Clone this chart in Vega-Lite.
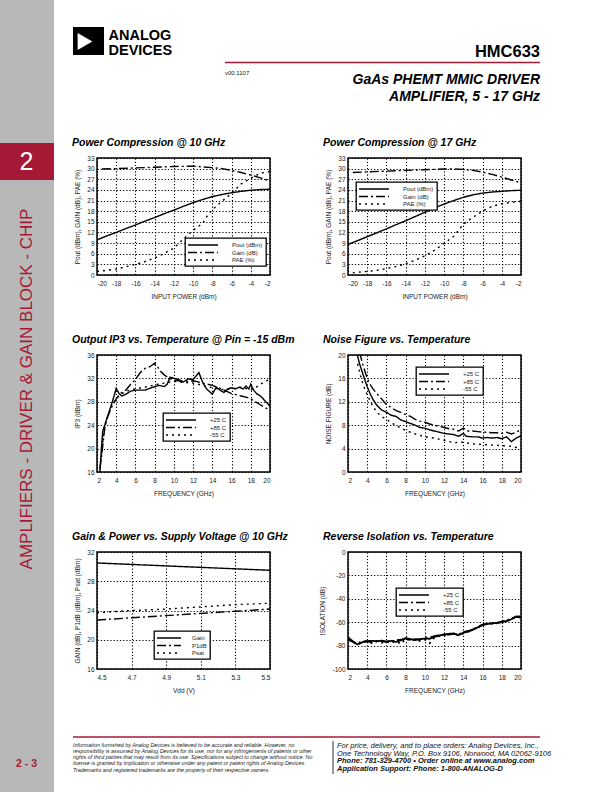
{
  "$schema": "https://vega.github.io/schema/vega-lite/v6.json",
  "padding": 0,
  "background": "white",
  "columns": 2,
  "bounds": "flush",
  "align": "each",
  "spacing": {"row": 80, "column": 78},
  "resolve": {"scale": {"strokeDash": "independent"}, "legend": {"strokeDash": "independent"}},
  "config": {
    "font": "Liberation Sans",
    "view": {"stroke": "#000", "strokeWidth": 1.5},
    "axis": {"domain": false, "ticks": false, "grid": true, "gridColor": "#000", "gridDash": [1.2, 2], "gridWidth": 1.1, "gridOpacity": 1, "labelFontSize": 6.5, "labelColor": "#222", "titleFontSize": 6.5, "titleFontWeight": "normal", "titleColor": "#222", "labelFont": "Liberation Sans", "titleFont": "Liberation Sans", "labelExpr": "replace(datum.label, '\u2212', '-')"},
    "axisX": {"labelPadding": 5, "titlePadding": 7},
    "axisY": {"labelPadding": 3, "titlePadding": 6},
    "legend": {"orient": "none", "padding": 3, "strokeColor": "#000", "strokeWidth": 1.3, "fillColor": "#fff", "labelFontSize": 6, "labelColor": "#222", "labelFont": "Liberation Sans", "rowPadding": 0.5, "symbolType": "M-5,0H5", "symbolSize": 36, "symbolOffset": 11, "symbolStrokeWidth": 1.3, "symbolStrokeColor": "#000", "labelOffset": 25},
    "title": {"fontSize": 10.5, "fontStyle": "italic", "fontWeight": "bold", "anchor": "start", "frame": "group", "dx": -25, "offset": 7, "color": "#000", "font": "Liberation Sans"}
  },
  "concat": [
    {
      "width": 173, "height": 78,
      "view": {"stroke": null},
      "data": {"values": [{}]},
      "layer": [
        {"mark": {"type": "rect", "color": "#b8b8b8"},
         "encoding": {"x": {"datum": 0, "type": "quantitative", "scale": {"domain": [97, 270], "nice": false, "zero": false}, "axis": null}, "x2": {"datum": 54},
                      "y": {"datum": 0, "type": "quantitative", "scale": {"domain": [0, 78], "nice": false, "zero": false, "reverse": true}, "axis": null}, "y2": {"datum": 792}}},
        {"mark": {"type": "rect", "color": "#a51937"},
         "encoding": {"x": {"datum": 0, "type": "quantitative", "scale": {"domain": [97, 270], "nice": false, "zero": false}, "axis": null}, "x2": {"datum": 54},
                      "y": {"datum": 143, "type": "quantitative", "scale": {"domain": [0, 78], "nice": false, "zero": false, "reverse": true}, "axis": null}, "y2": {"datum": 180}}},
        {"mark": {"type": "text", "text": "2", "fontSize": 25, "color": "#fff", "align": "center", "baseline": "middle"},
         "encoding": {"x": {"datum": 26.5, "type": "quantitative", "scale": {"domain": [97, 270], "nice": false, "zero": false}, "axis": null},
                      "y": {"datum": 162, "type": "quantitative", "scale": {"domain": [0, 78], "nice": false, "zero": false, "reverse": true}, "axis": null}}},
        {"mark": {"type": "text", "text": "AMPLIFIERS - DRIVER & GAIN BLOCK - CHIP", "fontSize": 17, "color": "#a51937", "align": "center", "baseline": "middle", "angle": 270},
         "encoding": {"x": {"datum": 27, "type": "quantitative", "scale": {"domain": [97, 270], "nice": false, "zero": false}, "axis": null},
                      "y": {"datum": 389, "type": "quantitative", "scale": {"domain": [0, 78], "nice": false, "zero": false, "reverse": true}, "axis": null}}},
        {"mark": {"type": "text", "text": "2 - 3", "fontSize": 10.5, "fontWeight": "bold", "color": "#a51937", "align": "center", "baseline": "middle"},
         "encoding": {"x": {"datum": 26.5, "type": "quantitative", "scale": {"domain": [97, 270], "nice": false, "zero": false}, "axis": null},
                      "y": {"datum": 764, "type": "quantitative", "scale": {"domain": [0, 78], "nice": false, "zero": false, "reverse": true}, "axis": null}}},
        {"mark": {"type": "rect", "color": "#000"},
         "encoding": {"x": {"datum": 73, "type": "quantitative", "scale": {"domain": [97, 270], "nice": false, "zero": false}, "axis": null}, "x2": {"datum": 104},
                      "y": {"datum": 27, "type": "quantitative", "scale": {"domain": [0, 78], "nice": false, "zero": false, "reverse": true}, "axis": null}, "y2": {"datum": 55}}},
        {"mark": {"type": "point", "shape": "triangle-right", "size": 289, "filled": true, "color": "#fff", "opacity": 1, "strokeWidth": 0},
         "encoding": {"x": {"datum": 85, "type": "quantitative", "scale": {"domain": [97, 270], "nice": false, "zero": false}, "axis": null},
                      "y": {"datum": 41.5, "type": "quantitative", "scale": {"domain": [0, 78], "nice": false, "zero": false, "reverse": true}, "axis": null}}},
        {"mark": {"type": "text", "text": "ANALOG", "fontSize": 14.5, "fontWeight": "bold", "color": "#000", "align": "left", "baseline": "alphabetic"},
         "encoding": {"x": {"datum": 108.5, "type": "quantitative", "scale": {"domain": [97, 270], "nice": false, "zero": false}, "axis": null},
                      "y": {"datum": 40.3, "type": "quantitative", "scale": {"domain": [0, 78], "nice": false, "zero": false, "reverse": true}, "axis": null}}},
        {"mark": {"type": "text", "text": "DEVICES", "fontSize": 14.5, "fontWeight": "bold", "color": "#000", "align": "left", "baseline": "alphabetic"},
         "encoding": {"x": {"datum": 108.5, "type": "quantitative", "scale": {"domain": [97, 270], "nice": false, "zero": false}, "axis": null},
                      "y": {"datum": 55, "type": "quantitative", "scale": {"domain": [0, 78], "nice": false, "zero": false, "reverse": true}, "axis": null}}},
        {"mark": {"type": "text", "text": "HMC633", "fontSize": 16.5, "fontWeight": "bold", "color": "#000", "align": "right", "baseline": "alphabetic"},
         "encoding": {"x": {"datum": 540, "type": "quantitative", "scale": {"domain": [97, 270], "nice": false, "zero": false}, "axis": null},
                      "y": {"datum": 56.5, "type": "quantitative", "scale": {"domain": [0, 78], "nice": false, "zero": false, "reverse": true}, "axis": null}}},
        {"mark": {"type": "rule", "color": "#a51937", "strokeWidth": 1.5},
         "encoding": {"x": {"datum": 225, "type": "quantitative", "scale": {"domain": [97, 270], "nice": false, "zero": false}, "axis": null}, "x2": {"datum": 540},
                      "y": {"datum": 62.5, "type": "quantitative", "scale": {"domain": [0, 78], "nice": false, "zero": false, "reverse": true}, "axis": null}}},
        {"mark": {"type": "text", "text": "v00.1107", "fontSize": 6, "color": "#222", "align": "left", "baseline": "alphabetic"},
         "encoding": {"x": {"datum": 225, "type": "quantitative", "scale": {"domain": [97, 270], "nice": false, "zero": false}, "axis": null},
                      "y": {"datum": 75, "type": "quantitative", "scale": {"domain": [0, 78], "nice": false, "zero": false, "reverse": true}, "axis": null}}},
        {"mark": {"type": "text", "text": "GaAs PHEMT MMIC DRIVER", "fontSize": 14, "fontWeight": "bold", "fontStyle": "italic", "color": "#000", "align": "right", "baseline": "alphabetic"},
         "encoding": {"x": {"datum": 540, "type": "quantitative", "scale": {"domain": [97, 270], "nice": false, "zero": false}, "axis": null},
                      "y": {"datum": 84, "type": "quantitative", "scale": {"domain": [0, 78], "nice": false, "zero": false, "reverse": true}, "axis": null}}},
        {"mark": {"type": "text", "text": "AMPLIFIER, 5 - 17 GHz", "fontSize": 14, "fontWeight": "bold", "fontStyle": "italic", "color": "#000", "align": "right", "baseline": "alphabetic"},
         "encoding": {"x": {"datum": 540, "type": "quantitative", "scale": {"domain": [97, 270], "nice": false, "zero": false}, "axis": null},
                      "y": {"datum": 101, "type": "quantitative", "scale": {"domain": [0, 78], "nice": false, "zero": false, "reverse": true}, "axis": null}}},
        {"mark": {"type": "rule", "color": "#a51937", "strokeWidth": 1.5},
         "encoding": {"x": {"datum": 73, "type": "quantitative", "scale": {"domain": [97, 270], "nice": false, "zero": false}, "axis": null}, "x2": {"datum": 540},
                      "y": {"datum": 737, "type": "quantitative", "scale": {"domain": [0, 78], "nice": false, "zero": false, "reverse": true}, "axis": null}}},
        {"mark": {"type": "text", "text": ["Information furnished by Analog Devices is believed to be accurate and reliable. However, no", "responsibility is assumed by Analog Devices for its use, nor for any infringements of patents or other", "rights of third parties that may result from its use. Specifications subject to change without notice. No", "license is granted by implication or otherwise under any patent or patent rights of Analog Devices.", "Trademarks and registered trademarks are the property of their respective owners."], "fontSize": 5.4, "fontStyle": "italic", "lineHeight": 6.3, "color": "#222", "align": "left", "baseline": "alphabetic"},
         "encoding": {"x": {"datum": 73, "type": "quantitative", "scale": {"domain": [97, 270], "nice": false, "zero": false}, "axis": null},
                      "y": {"datum": 746.5, "type": "quantitative", "scale": {"domain": [0, 78], "nice": false, "zero": false, "reverse": true}, "axis": null}}},
        {"mark": {"type": "rule", "color": "#000", "strokeWidth": 0.8},
         "encoding": {"x": {"datum": 333, "type": "quantitative", "scale": {"domain": [97, 270], "nice": false, "zero": false}, "axis": null},
                      "y": {"datum": 741, "type": "quantitative", "scale": {"domain": [0, 78], "nice": false, "zero": false, "reverse": true}, "axis": null}, "y2": {"datum": 774}}},
        {"mark": {"type": "text", "text": ["For price, delivery, and to place orders: Analog Devices, Inc.,", "One Technology Way, P.O. Box 9106, Norwood, MA 02062-9106"], "fontSize": 7.5, "fontStyle": "italic", "lineHeight": 7.6, "color": "#111", "align": "left", "baseline": "alphabetic"},
         "encoding": {"x": {"datum": 337, "type": "quantitative", "scale": {"domain": [97, 270], "nice": false, "zero": false}, "axis": null},
                      "y": {"datum": 748, "type": "quantitative", "scale": {"domain": [0, 78], "nice": false, "zero": false, "reverse": true}, "axis": null}}},
        {"mark": {"type": "text", "text": ["Phone: 781-329-4700 \u2022 Order online at www.analog.com", "Application Support: Phone: 1-800-ANALOG-D"], "fontSize": 7.5, "fontStyle": "italic", "fontWeight": "bold", "lineHeight": 7.6, "color": "#111", "align": "left", "baseline": "alphabetic"},
         "encoding": {"x": {"datum": 337, "type": "quantitative", "scale": {"domain": [97, 270], "nice": false, "zero": false}, "axis": null},
                      "y": {"datum": 763.2, "type": "quantitative", "scale": {"domain": [0, 78], "nice": false, "zero": false, "reverse": true}, "axis": null}}}
      ]
    },
    {
      "width": 173, "height": 78,
      "view": {"stroke": null},
      "data": {"values": [{}]},
      "mark": {"type": "text", "text": ""}
    },
    {
      "width": 173, "height": 117,
      "title": "Power Compression @ 10 GHz",
      "data": {"values": [
        {"s": "Pout (dBm)", "x": -20, "y": 9.9}, {"s": "Pout (dBm)", "x": -19, "y": 11.0}, {"s": "Pout (dBm)", "x": -18, "y": 12.0}, {"s": "Pout (dBm)", "x": -17, "y": 13.1}, {"s": "Pout (dBm)", "x": -16, "y": 14.1}, {"s": "Pout (dBm)", "x": -15, "y": 15.2}, {"s": "Pout (dBm)", "x": -14, "y": 16.2}, {"s": "Pout (dBm)", "x": -13, "y": 17.3}, {"s": "Pout (dBm)", "x": -12, "y": 18.3}, {"s": "Pout (dBm)", "x": -11, "y": 19.4}, {"s": "Pout (dBm)", "x": -10, "y": 20.4}, {"s": "Pout (dBm)", "x": -9, "y": 21.3}, {"s": "Pout (dBm)", "x": -8, "y": 22.1}, {"s": "Pout (dBm)", "x": -7, "y": 22.7}, {"s": "Pout (dBm)", "x": -6, "y": 23.2}, {"s": "Pout (dBm)", "x": -5, "y": 23.6}, {"s": "Pout (dBm)", "x": -4, "y": 23.9}, {"s": "Pout (dBm)", "x": -3, "y": 24.1}, {"s": "Pout (dBm)", "x": -2, "y": 24.2},
        {"s": "Gain (dB)", "x": -19.5, "y": 29.9}, {"s": "Gain (dB)", "x": -18, "y": 30.0}, {"s": "Gain (dB)", "x": -16, "y": 30.2}, {"s": "Gain (dB)", "x": -14, "y": 30.4}, {"s": "Gain (dB)", "x": -12, "y": 30.6}, {"s": "Gain (dB)", "x": -10, "y": 30.7}, {"s": "Gain (dB)", "x": -9, "y": 30.5}, {"s": "Gain (dB)", "x": -8, "y": 30.3}, {"s": "Gain (dB)", "x": -7, "y": 30.0}, {"s": "Gain (dB)", "x": -6, "y": 29.5}, {"s": "Gain (dB)", "x": -5, "y": 28.9}, {"s": "Gain (dB)", "x": -4, "y": 28.2}, {"s": "Gain (dB)", "x": -3, "y": 27.4}, {"s": "Gain (dB)", "x": -2, "y": 26.5},
        {"s": "PAE (%)", "x": -20, "y": 1.0}, {"s": "PAE (%)", "x": -19, "y": 1.3}, {"s": "PAE (%)", "x": -18, "y": 1.7}, {"s": "PAE (%)", "x": -17, "y": 2.3}, {"s": "PAE (%)", "x": -16, "y": 3.0}, {"s": "PAE (%)", "x": -15, "y": 3.8}, {"s": "PAE (%)", "x": -14, "y": 4.8}, {"s": "PAE (%)", "x": -13, "y": 6.1}, {"s": "PAE (%)", "x": -12, "y": 7.6}, {"s": "PAE (%)", "x": -11, "y": 10.2}, {"s": "PAE (%)", "x": -10, "y": 12.6}, {"s": "PAE (%)", "x": -9, "y": 14.6}, {"s": "PAE (%)", "x": -8.6, "y": 16.4}, {"s": "PAE (%)", "x": -8, "y": 18.4}, {"s": "PAE (%)", "x": -7, "y": 20.8}, {"s": "PAE (%)", "x": -6, "y": 23.0}, {"s": "PAE (%)", "x": -5, "y": 25.7}, {"s": "PAE (%)", "x": -4, "y": 27.3}, {"s": "PAE (%)", "x": -3, "y": 28.7}, {"s": "PAE (%)", "x": -2, "y": 29.2}
      ]},
      "mark": {"type": "line", "clip": true, "color": "#000", "strokeWidth": 1.4},
      "encoding": {
        "x": {"field": "x", "type": "quantitative", "scale": {"domain": [-20, -2], "nice": false, "zero": false}, "axis": {"title": "INPUT POWER (dBm)", "values": [-20, -18, -16, -14, -12, -10, -8, -6, -4, -2]}},
        "y": {"field": "y", "type": "quantitative", "scale": {"domain": [0, 33], "nice": false, "zero": false}, "axis": {"title": "Pout (dBm), GAIN (dB), PAE (%)", "values": [0, 3, 6, 9, 12, 15, 18, 21, 24, 27, 30, 33]}},
        "strokeDash": {"field": "s", "type": "nominal", "scale": {"domain": ["Pout (dBm)", "Gain (dB)", "PAE (%)"], "range": [[1, 0], [9, 3, 2, 3], [2, 4]]}, "legend": {"title": null, "legendX": 88, "legendY": 80}}
      }
    },
    {
      "width": 173, "height": 117,
      "title": "Power Compression @ 17 GHz",
      "data": {"values": [
        {"s": "Pout (dBm)", "x": -20, "y": 8.6}, {"s": "Pout (dBm)", "x": -19, "y": 9.7}, {"s": "Pout (dBm)", "x": -18, "y": 10.8}, {"s": "Pout (dBm)", "x": -17, "y": 11.9}, {"s": "Pout (dBm)", "x": -16, "y": 13.0}, {"s": "Pout (dBm)", "x": -15, "y": 14.2}, {"s": "Pout (dBm)", "x": -14, "y": 15.3}, {"s": "Pout (dBm)", "x": -13, "y": 16.5}, {"s": "Pout (dBm)", "x": -12, "y": 17.7}, {"s": "Pout (dBm)", "x": -11, "y": 18.9}, {"s": "Pout (dBm)", "x": -10, "y": 20.0}, {"s": "Pout (dBm)", "x": -9, "y": 21.0}, {"s": "Pout (dBm)", "x": -8, "y": 21.9}, {"s": "Pout (dBm)", "x": -7, "y": 22.6}, {"s": "Pout (dBm)", "x": -6, "y": 23.1}, {"s": "Pout (dBm)", "x": -5, "y": 23.4}, {"s": "Pout (dBm)", "x": -4, "y": 23.6}, {"s": "Pout (dBm)", "x": -3, "y": 23.8}, {"s": "Pout (dBm)", "x": -2, "y": 23.9},
        {"s": "Gain (dB)", "x": -19.5, "y": 28.9}, {"s": "Gain (dB)", "x": -18, "y": 29.1}, {"s": "Gain (dB)", "x": -16, "y": 29.3}, {"s": "Gain (dB)", "x": -14, "y": 29.5}, {"s": "Gain (dB)", "x": -12, "y": 29.7}, {"s": "Gain (dB)", "x": -10, "y": 29.9}, {"s": "Gain (dB)", "x": -9, "y": 29.9}, {"s": "Gain (dB)", "x": -8, "y": 29.8}, {"s": "Gain (dB)", "x": -7, "y": 29.5}, {"s": "Gain (dB)", "x": -6, "y": 29.0}, {"s": "Gain (dB)", "x": -5, "y": 28.4}, {"s": "Gain (dB)", "x": -4, "y": 27.6}, {"s": "Gain (dB)", "x": -3, "y": 26.8}, {"s": "Gain (dB)", "x": -2, "y": 26.0},
        {"s": "PAE (%)", "x": -19.5, "y": 0.6}, {"s": "PAE (%)", "x": -19, "y": 0.8}, {"s": "PAE (%)", "x": -18, "y": 1.0}, {"s": "PAE (%)", "x": -17, "y": 1.3}, {"s": "PAE (%)", "x": -16, "y": 1.8}, {"s": "PAE (%)", "x": -15, "y": 2.4}, {"s": "PAE (%)", "x": -14, "y": 3.2}, {"s": "PAE (%)", "x": -13, "y": 4.2}, {"s": "PAE (%)", "x": -12, "y": 5.4}, {"s": "PAE (%)", "x": -11, "y": 7.0}, {"s": "PAE (%)", "x": -10, "y": 8.9}, {"s": "PAE (%)", "x": -9, "y": 10.9}, {"s": "PAE (%)", "x": -8.5, "y": 12.6}, {"s": "PAE (%)", "x": -8, "y": 14.3}, {"s": "PAE (%)", "x": -7, "y": 16.3}, {"s": "PAE (%)", "x": -6, "y": 18.0}, {"s": "PAE (%)", "x": -5, "y": 19.4}, {"s": "PAE (%)", "x": -4, "y": 20.1}, {"s": "PAE (%)", "x": -3, "y": 20.5}, {"s": "PAE (%)", "x": -2, "y": 20.8}
      ]},
      "mark": {"type": "line", "clip": true, "color": "#000", "strokeWidth": 1.4},
      "encoding": {
        "x": {"field": "x", "type": "quantitative", "scale": {"domain": [-20, -2], "nice": false, "zero": false}, "axis": {"title": "INPUT POWER (dBm)", "values": [-20, -18, -16, -14, -12, -10, -8, -6, -4, -2]}},
        "y": {"field": "y", "type": "quantitative", "scale": {"domain": [0, 33], "nice": false, "zero": false}, "axis": {"title": "Pout (dBm), GAIN (dB), PAE (%)", "values": [0, 3, 6, 9, 12, 15, 18, 21, 24, 27, 30, 33]}},
        "strokeDash": {"field": "s", "type": "nominal", "scale": {"domain": ["Pout (dBm)", "Gain (dB)", "PAE (%)"], "range": [[1, 0], [9, 3, 2, 3], [2, 4]]}, "legend": {"title": null, "legendX": 8, "legendY": 24}}
      }
    },
    {
      "width": 173, "height": 117,
      "title": "Output IP3 vs. Temperature @ Pin = -15 dBm",
      "data": {"values": [
        {"s": "+25 C", "x": 2.3, "y": 16}, {"s": "+25 C", "x": 2.5, "y": 21}, {"s": "+25 C", "x": 2.6, "y": 23}, {"s": "+25 C", "x": 2.8, "y": 24}, {"s": "+25 C", "x": 3.0, "y": 25}, {"s": "+25 C", "x": 3.3, "y": 26.5}, {"s": "+25 C", "x": 3.6, "y": 28}, {"s": "+25 C", "x": 4.0, "y": 30.3}, {"s": "+25 C", "x": 4.3, "y": 29.4}, {"s": "+25 C", "x": 4.6, "y": 29.0}, {"s": "+25 C", "x": 5.0, "y": 29.3}, {"s": "+25 C", "x": 5.5, "y": 29.8}, {"s": "+25 C", "x": 6.0, "y": 30.0}, {"s": "+25 C", "x": 6.5, "y": 30.0}, {"s": "+25 C", "x": 7.0, "y": 30.0}, {"s": "+25 C", "x": 7.5, "y": 30.3}, {"s": "+25 C", "x": 8.0, "y": 30.6}, {"s": "+25 C", "x": 8.5, "y": 30.8}, {"s": "+25 C", "x": 9.0, "y": 30.6}, {"s": "+25 C", "x": 9.3, "y": 31.0}, {"s": "+25 C", "x": 9.6, "y": 32.2}, {"s": "+25 C", "x": 10.0, "y": 32.0}, {"s": "+25 C", "x": 10.5, "y": 31.8}, {"s": "+25 C", "x": 11.0, "y": 31.4}, {"s": "+25 C", "x": 11.5, "y": 31.9}, {"s": "+25 C", "x": 12.0, "y": 31.8}, {"s": "+25 C", "x": 12.3, "y": 32.4}, {"s": "+25 C", "x": 12.6, "y": 33.0}, {"s": "+25 C", "x": 13.0, "y": 31.3}, {"s": "+25 C", "x": 13.4, "y": 30.2}, {"s": "+25 C", "x": 13.8, "y": 29.6}, {"s": "+25 C", "x": 14.0, "y": 29.3}, {"s": "+25 C", "x": 14.4, "y": 30.5}, {"s": "+25 C", "x": 14.8, "y": 30.0}, {"s": "+25 C", "x": 15.2, "y": 29.6}, {"s": "+25 C", "x": 15.6, "y": 30.2}, {"s": "+25 C", "x": 16.0, "y": 30.4}, {"s": "+25 C", "x": 16.4, "y": 30.2}, {"s": "+25 C", "x": 16.8, "y": 30.5}, {"s": "+25 C", "x": 17.2, "y": 30.2}, {"s": "+25 C", "x": 17.5, "y": 30.7}, {"s": "+25 C", "x": 17.8, "y": 30.2}, {"s": "+25 C", "x": 18.0, "y": 31.0}, {"s": "+25 C", "x": 18.3, "y": 30.0}, {"s": "+25 C", "x": 18.6, "y": 29.4}, {"s": "+25 C", "x": 19.0, "y": 29.0}, {"s": "+25 C", "x": 19.4, "y": 28.3}, {"s": "+25 C", "x": 19.7, "y": 27.8}, {"s": "+25 C", "x": 20.0, "y": 27.2},
        {"s": "+85 C", "x": 2.3, "y": 16.5}, {"s": "+85 C", "x": 2.5, "y": 19}, {"s": "+85 C", "x": 2.8, "y": 23.5}, {"s": "+85 C", "x": 3.0, "y": 25}, {"s": "+85 C", "x": 3.5, "y": 27}, {"s": "+85 C", "x": 4.0, "y": 28.5}, {"s": "+85 C", "x": 4.5, "y": 29.5}, {"s": "+85 C", "x": 5.0, "y": 30.0}, {"s": "+85 C", "x": 5.5, "y": 31.0}, {"s": "+85 C", "x": 6.0, "y": 31.8}, {"s": "+85 C", "x": 6.5, "y": 33.0}, {"s": "+85 C", "x": 7.0, "y": 33.7}, {"s": "+85 C", "x": 7.5, "y": 34.0}, {"s": "+85 C", "x": 8.0, "y": 34.6}, {"s": "+85 C", "x": 8.3, "y": 34.0}, {"s": "+85 C", "x": 8.6, "y": 33.2}, {"s": "+85 C", "x": 9.0, "y": 32.6}, {"s": "+85 C", "x": 9.5, "y": 32.0}, {"s": "+85 C", "x": 10.0, "y": 31.7}, {"s": "+85 C", "x": 10.5, "y": 31.6}, {"s": "+85 C", "x": 11.0, "y": 31.4}, {"s": "+85 C", "x": 11.5, "y": 31.5}, {"s": "+85 C", "x": 12.0, "y": 31.6}, {"s": "+85 C", "x": 12.5, "y": 31.4}, {"s": "+85 C", "x": 13.0, "y": 31.2}, {"s": "+85 C", "x": 13.5, "y": 31.0}, {"s": "+85 C", "x": 14.0, "y": 30.8}, {"s": "+85 C", "x": 14.5, "y": 30.5}, {"s": "+85 C", "x": 15.0, "y": 30.2}, {"s": "+85 C", "x": 15.5, "y": 29.8}, {"s": "+85 C", "x": 16.0, "y": 29.4}, {"s": "+85 C", "x": 16.5, "y": 29.2}, {"s": "+85 C", "x": 17.0, "y": 29.0}, {"s": "+85 C", "x": 17.5, "y": 28.8}, {"s": "+85 C", "x": 18.0, "y": 28.5}, {"s": "+85 C", "x": 18.5, "y": 28.0}, {"s": "+85 C", "x": 19.0, "y": 27.5}, {"s": "+85 C", "x": 19.5, "y": 27.0}, {"s": "+85 C", "x": 20.0, "y": 26.5},
        {"s": "-55 C", "x": 2.4, "y": 18}, {"s": "-55 C", "x": 2.7, "y": 22.5}, {"s": "-55 C", "x": 3.0, "y": 25.0}, {"s": "-55 C", "x": 3.5, "y": 27.2}, {"s": "-55 C", "x": 4.0, "y": 28.6}, {"s": "-55 C", "x": 4.5, "y": 29.3}, {"s": "-55 C", "x": 5.0, "y": 29.8}, {"s": "-55 C", "x": 6.0, "y": 30.2}, {"s": "-55 C", "x": 7.0, "y": 30.5}, {"s": "-55 C", "x": 8.0, "y": 30.9}, {"s": "-55 C", "x": 9.0, "y": 31.2}, {"s": "-55 C", "x": 10.0, "y": 31.5}, {"s": "-55 C", "x": 11.0, "y": 31.3}, {"s": "-55 C", "x": 12.0, "y": 31.2}, {"s": "-55 C", "x": 13.0, "y": 30.8}, {"s": "-55 C", "x": 14.0, "y": 30.4}, {"s": "-55 C", "x": 15.0, "y": 30.1}, {"s": "-55 C", "x": 16.0, "y": 30.2}, {"s": "-55 C", "x": 17.0, "y": 30.5}, {"s": "-55 C", "x": 18.0, "y": 30.0}, {"s": "-55 C", "x": 18.5, "y": 30.4}, {"s": "-55 C", "x": 19.0, "y": 31.0}, {"s": "-55 C", "x": 19.5, "y": 31.5}, {"s": "-55 C", "x": 20.0, "y": 31.8}
      ]},
      "mark": {"type": "line", "clip": true, "color": "#000", "strokeWidth": 1.4},
      "encoding": {
        "x": {"field": "x", "type": "quantitative", "scale": {"domain": [2, 20], "nice": false, "zero": false}, "axis": {"title": "FREQUENCY (GHz)", "values": [2, 4, 6, 8, 10, 12, 14, 16, 18, 20]}},
        "y": {"field": "y", "type": "quantitative", "scale": {"domain": [16, 36], "nice": false, "zero": false}, "axis": {"title": "IP3 (dBm)", "values": [16, 20, 24, 28, 32, 36]}},
        "strokeDash": {"field": "s", "type": "nominal", "scale": {"domain": ["+25 C", "+85 C", "-55 C"], "range": [[1, 0], [9, 3, 2, 3], [2, 4]]}, "legend": {"title": null, "legendX": 66, "legendY": 58}}
      }
    },
    {
      "width": 173, "height": 117,
      "title": "Noise Figure vs. Temperature",
      "data": {"values": [
        {"s": "+25 C", "x": 2.9, "y": 20.5}, {"s": "+25 C", "x": 3.2, "y": 18.5}, {"s": "+25 C", "x": 3.5, "y": 17.0}, {"s": "+25 C", "x": 3.8, "y": 15.5}, {"s": "+25 C", "x": 4.0, "y": 14.6}, {"s": "+25 C", "x": 4.3, "y": 13.4}, {"s": "+25 C", "x": 4.6, "y": 12.4}, {"s": "+25 C", "x": 5.0, "y": 11.4}, {"s": "+25 C", "x": 5.5, "y": 10.6}, {"s": "+25 C", "x": 6.0, "y": 10.2}, {"s": "+25 C", "x": 6.5, "y": 9.7}, {"s": "+25 C", "x": 7.0, "y": 9.5}, {"s": "+25 C", "x": 7.5, "y": 8.9}, {"s": "+25 C", "x": 8.0, "y": 8.6}, {"s": "+25 C", "x": 8.5, "y": 8.3}, {"s": "+25 C", "x": 9.0, "y": 8.0}, {"s": "+25 C", "x": 9.5, "y": 7.6}, {"s": "+25 C", "x": 10.0, "y": 7.5}, {"s": "+25 C", "x": 10.5, "y": 7.2}, {"s": "+25 C", "x": 11.0, "y": 7.0}, {"s": "+25 C", "x": 11.5, "y": 6.8}, {"s": "+25 C", "x": 12.0, "y": 6.6}, {"s": "+25 C", "x": 12.5, "y": 6.5}, {"s": "+25 C", "x": 13.0, "y": 6.4}, {"s": "+25 C", "x": 13.5, "y": 6.1}, {"s": "+25 C", "x": 14.0, "y": 6.6}, {"s": "+25 C", "x": 14.3, "y": 6.1}, {"s": "+25 C", "x": 15.0, "y": 6.0}, {"s": "+25 C", "x": 15.5, "y": 6.0}, {"s": "+25 C", "x": 16.0, "y": 5.8}, {"s": "+25 C", "x": 16.5, "y": 5.9}, {"s": "+25 C", "x": 17.0, "y": 5.8}, {"s": "+25 C", "x": 17.5, "y": 5.9}, {"s": "+25 C", "x": 18.0, "y": 5.7}, {"s": "+25 C", "x": 18.5, "y": 6.0}, {"s": "+25 C", "x": 19.0, "y": 5.2}, {"s": "+25 C", "x": 19.5, "y": 5.8}, {"s": "+25 C", "x": 20.0, "y": 6.2},
        {"s": "+85 C", "x": 3.2, "y": 20.5}, {"s": "+85 C", "x": 3.5, "y": 18.6}, {"s": "+85 C", "x": 3.8, "y": 17.0}, {"s": "+85 C", "x": 4.0, "y": 16.0}, {"s": "+85 C", "x": 4.3, "y": 15.0}, {"s": "+85 C", "x": 4.6, "y": 14.2}, {"s": "+85 C", "x": 5.0, "y": 13.4}, {"s": "+85 C", "x": 5.5, "y": 12.5}, {"s": "+85 C", "x": 6.0, "y": 11.5}, {"s": "+85 C", "x": 6.5, "y": 11.0}, {"s": "+85 C", "x": 7.0, "y": 10.5}, {"s": "+85 C", "x": 7.5, "y": 10.2}, {"s": "+85 C", "x": 8.0, "y": 9.8}, {"s": "+85 C", "x": 8.5, "y": 9.5}, {"s": "+85 C", "x": 9.0, "y": 9.0}, {"s": "+85 C", "x": 9.5, "y": 8.7}, {"s": "+85 C", "x": 10.0, "y": 8.5}, {"s": "+85 C", "x": 10.5, "y": 8.2}, {"s": "+85 C", "x": 11.0, "y": 8.0}, {"s": "+85 C", "x": 11.5, "y": 7.8}, {"s": "+85 C", "x": 12.0, "y": 7.6}, {"s": "+85 C", "x": 12.5, "y": 7.4}, {"s": "+85 C", "x": 13.0, "y": 7.3}, {"s": "+85 C", "x": 13.5, "y": 7.0}, {"s": "+85 C", "x": 14.0, "y": 7.5}, {"s": "+85 C", "x": 14.5, "y": 7.0}, {"s": "+85 C", "x": 15.0, "y": 7.0}, {"s": "+85 C", "x": 15.5, "y": 6.9}, {"s": "+85 C", "x": 16.0, "y": 6.8}, {"s": "+85 C", "x": 16.5, "y": 6.8}, {"s": "+85 C", "x": 17.0, "y": 6.7}, {"s": "+85 C", "x": 17.5, "y": 6.7}, {"s": "+85 C", "x": 18.0, "y": 6.6}, {"s": "+85 C", "x": 18.5, "y": 6.8}, {"s": "+85 C", "x": 19.0, "y": 6.5}, {"s": "+85 C", "x": 19.5, "y": 6.8}, {"s": "+85 C", "x": 20.0, "y": 7.3},
        {"s": "-55 C", "x": 3.0, "y": 18.5}, {"s": "-55 C", "x": 3.3, "y": 16.5}, {"s": "-55 C", "x": 3.6, "y": 14.8}, {"s": "-55 C", "x": 4.0, "y": 13.2}, {"s": "-55 C", "x": 4.5, "y": 11.5}, {"s": "-55 C", "x": 5.0, "y": 10.2}, {"s": "-55 C", "x": 5.5, "y": 9.5}, {"s": "-55 C", "x": 6.0, "y": 9.0}, {"s": "-55 C", "x": 6.5, "y": 8.4}, {"s": "-55 C", "x": 7.0, "y": 8.0}, {"s": "-55 C", "x": 7.5, "y": 7.5}, {"s": "-55 C", "x": 8.0, "y": 7.1}, {"s": "-55 C", "x": 8.5, "y": 6.8}, {"s": "-55 C", "x": 9.0, "y": 6.5}, {"s": "-55 C", "x": 10.0, "y": 6.0}, {"s": "-55 C", "x": 11.0, "y": 5.8}, {"s": "-55 C", "x": 12.0, "y": 5.4}, {"s": "-55 C", "x": 13.0, "y": 5.0}, {"s": "-55 C", "x": 14.0, "y": 5.1}, {"s": "-55 C", "x": 15.0, "y": 4.8}, {"s": "-55 C", "x": 16.0, "y": 4.7}, {"s": "-55 C", "x": 17.0, "y": 4.6}, {"s": "-55 C", "x": 18.0, "y": 4.5}, {"s": "-55 C", "x": 19.0, "y": 4.4}, {"s": "-55 C", "x": 19.5, "y": 4.2}, {"s": "-55 C", "x": 20.0, "y": 4.5}
      ]},
      "mark": {"type": "line", "clip": true, "color": "#000", "strokeWidth": 1.4},
      "encoding": {
        "x": {"field": "x", "type": "quantitative", "scale": {"domain": [2, 20], "nice": false, "zero": false}, "axis": {"title": "FREQUENCY (GHz)", "values": [2, 4, 6, 8, 10, 12, 14, 16, 18, 20]}},
        "y": {"field": "y", "type": "quantitative", "scale": {"domain": [0, 20], "nice": false, "zero": false}, "axis": {"title": "NOISE FIGURE (dB)", "values": [0, 4, 8, 12, 16, 20]}},
        "strokeDash": {"field": "s", "type": "nominal", "scale": {"domain": ["+25 C", "+85 C", "-55 C"], "range": [[1, 0], [9, 3, 2, 3], [2, 4]]}, "legend": {"title": null, "legendX": 68, "legendY": 12}}
      }
    },
    {
      "width": 173, "height": 117,
      "title": "Gain & Power vs. Supply Voltage @ 10 GHz",
      "data": {"values": [
        {"s": "Gain", "x": 4.5, "y": 30.5}, {"s": "Gain", "x": 4.7, "y": 30.3}, {"s": "Gain", "x": 4.9, "y": 30.1}, {"s": "Gain", "x": 5.1, "y": 29.9}, {"s": "Gain", "x": 5.3, "y": 29.7}, {"s": "Gain", "x": 5.5, "y": 29.5},
        {"s": "P1dB", "x": 4.5, "y": 22.7}, {"s": "P1dB", "x": 4.7, "y": 23.0}, {"s": "P1dB", "x": 4.9, "y": 23.3}, {"s": "P1dB", "x": 5.1, "y": 23.6}, {"s": "P1dB", "x": 5.3, "y": 23.9}, {"s": "P1dB", "x": 5.5, "y": 24.2},
        {"s": "Psat", "x": 4.5, "y": 23.7}, {"s": "Psat", "x": 4.7, "y": 24.0}, {"s": "Psat", "x": 4.9, "y": 24.2}, {"s": "Psat", "x": 5.1, "y": 24.5}, {"s": "Psat", "x": 5.3, "y": 24.8}, {"s": "Psat", "x": 5.5, "y": 25.0}
      ]},
      "mark": {"type": "line", "clip": true, "color": "#000", "strokeWidth": 1.4},
      "encoding": {
        "x": {"field": "x", "type": "quantitative", "scale": {"domain": [4.5, 5.5], "nice": false, "zero": false}, "axis": {"title": "Vdd (V)", "values": [4.5, 4.7, 4.9, 5.1, 5.3, 5.5], "format": ".1f"}},
        "y": {"field": "y", "type": "quantitative", "scale": {"domain": [16, 32], "nice": false, "zero": false}, "axis": {"title": "GAIN (dB), P1dB (dBm), Psat (dBm)", "values": [16, 20, 24, 28, 32]}},
        "strokeDash": {"field": "s", "type": "nominal", "scale": {"domain": ["Gain", "P1dB", "Psat"], "range": [[1, 0], [9, 3, 2, 3], [2, 4]]}, "legend": {"title": null, "legendX": 57, "legendY": 79, "symbolType": "M-4,0H4", "symbolOffset": 8, "labelOffset": 19}}
      }
    },
    {
      "width": 173, "height": 117,
      "title": "Reverse Isolation vs. Temperature",
      "data": {"values": [
        {"s": "+25 C", "x": 2.0, "y": -73}, {"s": "+25 C", "x": 2.3, "y": -75}, {"s": "+25 C", "x": 2.6, "y": -77}, {"s": "+25 C", "x": 3.0, "y": -79}, {"s": "+25 C", "x": 3.4, "y": -77.5}, {"s": "+25 C", "x": 3.8, "y": -76.5}, {"s": "+25 C", "x": 4.2, "y": -76}, {"s": "+25 C", "x": 4.6, "y": -76}, {"s": "+25 C", "x": 5.0, "y": -76.2}, {"s": "+25 C", "x": 5.5, "y": -75.8}, {"s": "+25 C", "x": 6.0, "y": -76.5}, {"s": "+25 C", "x": 6.5, "y": -76}, {"s": "+25 C", "x": 7.0, "y": -76.8}, {"s": "+25 C", "x": 7.5, "y": -75.5}, {"s": "+25 C", "x": 8.0, "y": -73.5}, {"s": "+25 C", "x": 8.5, "y": -74.5}, {"s": "+25 C", "x": 9.0, "y": -75.2}, {"s": "+25 C", "x": 9.5, "y": -74.5}, {"s": "+25 C", "x": 10.0, "y": -74}, {"s": "+25 C", "x": 10.5, "y": -74.2}, {"s": "+25 C", "x": 11.0, "y": -72.5}, {"s": "+25 C", "x": 11.5, "y": -71.5}, {"s": "+25 C", "x": 12.0, "y": -70.5}, {"s": "+25 C", "x": 12.5, "y": -70}, {"s": "+25 C", "x": 13.0, "y": -69.5}, {"s": "+25 C", "x": 13.5, "y": -71.2}, {"s": "+25 C", "x": 14.0, "y": -69}, {"s": "+25 C", "x": 14.5, "y": -68}, {"s": "+25 C", "x": 15.0, "y": -66.5}, {"s": "+25 C", "x": 15.5, "y": -64.5}, {"s": "+25 C", "x": 16.0, "y": -62.5}, {"s": "+25 C", "x": 16.5, "y": -61.5}, {"s": "+25 C", "x": 17.0, "y": -61}, {"s": "+25 C", "x": 17.5, "y": -60.5}, {"s": "+25 C", "x": 18.0, "y": -60}, {"s": "+25 C", "x": 18.5, "y": -59}, {"s": "+25 C", "x": 19.0, "y": -57.5}, {"s": "+25 C", "x": 19.5, "y": -55}, {"s": "+25 C", "x": 20.0, "y": -55.5},
        {"s": "+85 C", "x": 2.0, "y": -74}, {"s": "+85 C", "x": 2.3, "y": -76}, {"s": "+85 C", "x": 2.7, "y": -77.5}, {"s": "+85 C", "x": 3.0, "y": -78}, {"s": "+85 C", "x": 3.5, "y": -76.5}, {"s": "+85 C", "x": 4.0, "y": -76.5}, {"s": "+85 C", "x": 4.5, "y": -77}, {"s": "+85 C", "x": 5.0, "y": -76.5}, {"s": "+85 C", "x": 5.5, "y": -76}, {"s": "+85 C", "x": 6.0, "y": -77}, {"s": "+85 C", "x": 6.5, "y": -76.5}, {"s": "+85 C", "x": 7.0, "y": -75.5}, {"s": "+85 C", "x": 7.5, "y": -75}, {"s": "+85 C", "x": 8.0, "y": -74}, {"s": "+85 C", "x": 8.5, "y": -75}, {"s": "+85 C", "x": 9.0, "y": -74.5}, {"s": "+85 C", "x": 9.5, "y": -74.8}, {"s": "+85 C", "x": 10.0, "y": -73.5}, {"s": "+85 C", "x": 10.5, "y": -73}, {"s": "+85 C", "x": 11.0, "y": -72}, {"s": "+85 C", "x": 11.5, "y": -71}, {"s": "+85 C", "x": 12.0, "y": -70.8}, {"s": "+85 C", "x": 12.5, "y": -70.5}, {"s": "+85 C", "x": 13.0, "y": -70}, {"s": "+85 C", "x": 13.5, "y": -70.5}, {"s": "+85 C", "x": 14.0, "y": -68.5}, {"s": "+85 C", "x": 14.5, "y": -67.5}, {"s": "+85 C", "x": 15.0, "y": -66}, {"s": "+85 C", "x": 15.5, "y": -64}, {"s": "+85 C", "x": 16.0, "y": -62}, {"s": "+85 C", "x": 16.5, "y": -61.5}, {"s": "+85 C", "x": 17.0, "y": -61.2}, {"s": "+85 C", "x": 17.5, "y": -60.8}, {"s": "+85 C", "x": 18.0, "y": -59.5}, {"s": "+85 C", "x": 18.5, "y": -58.5}, {"s": "+85 C", "x": 19.0, "y": -57}, {"s": "+85 C", "x": 19.5, "y": -55.5}, {"s": "+85 C", "x": 20.0, "y": -56},
        {"s": "-55 C", "x": 2.0, "y": -75}, {"s": "-55 C", "x": 2.5, "y": -77}, {"s": "-55 C", "x": 3.0, "y": -78.5}, {"s": "-55 C", "x": 3.5, "y": -77}, {"s": "-55 C", "x": 4.0, "y": -76}, {"s": "-55 C", "x": 4.5, "y": -78}, {"s": "-55 C", "x": 5.0, "y": -76}, {"s": "-55 C", "x": 5.5, "y": -77.5}, {"s": "-55 C", "x": 6.0, "y": -76}, {"s": "-55 C", "x": 6.5, "y": -77.5}, {"s": "-55 C", "x": 7.0, "y": -76}, {"s": "-55 C", "x": 7.5, "y": -78.5}, {"s": "-55 C", "x": 8.0, "y": -74}, {"s": "-55 C", "x": 8.5, "y": -76}, {"s": "-55 C", "x": 9.0, "y": -75}, {"s": "-55 C", "x": 9.5, "y": -76}, {"s": "-55 C", "x": 10.0, "y": -75}, {"s": "-55 C", "x": 10.5, "y": -78}, {"s": "-55 C", "x": 11.0, "y": -73}, {"s": "-55 C", "x": 11.5, "y": -72}, {"s": "-55 C", "x": 12.0, "y": -71}, {"s": "-55 C", "x": 12.5, "y": -70}, {"s": "-55 C", "x": 13.0, "y": -70}, {"s": "-55 C", "x": 13.5, "y": -71}, {"s": "-55 C", "x": 14.0, "y": -69.5}, {"s": "-55 C", "x": 14.5, "y": -68}, {"s": "-55 C", "x": 15.0, "y": -66}, {"s": "-55 C", "x": 15.5, "y": -64.5}, {"s": "-55 C", "x": 16.0, "y": -62}, {"s": "-55 C", "x": 16.5, "y": -61.5}, {"s": "-55 C", "x": 17.0, "y": -61}, {"s": "-55 C", "x": 17.5, "y": -60.5}, {"s": "-55 C", "x": 18.0, "y": -60}, {"s": "-55 C", "x": 18.5, "y": -59}, {"s": "-55 C", "x": 19.0, "y": -57.5}, {"s": "-55 C", "x": 19.5, "y": -55.5}, {"s": "-55 C", "x": 20.0, "y": -55}
      ]},
      "mark": {"type": "line", "clip": true, "color": "#000", "strokeWidth": 1.8},
      "encoding": {
        "x": {"field": "x", "type": "quantitative", "scale": {"domain": [2, 20], "nice": false, "zero": false}, "axis": {"title": "FREQUENCY (GHz)", "values": [2, 4, 6, 8, 10, 12, 14, 16, 18, 20]}},
        "y": {"field": "y", "type": "quantitative", "scale": {"domain": [-100, 0], "nice": false, "zero": false}, "axis": {"title": "ISOLATION (dB)", "values": [-100, -80, -60, -40, -20, 0]}},
        "strokeDash": {"field": "s", "type": "nominal", "scale": {"domain": ["+25 C", "+85 C", "-55 C"], "range": [[1, 0], [9, 3, 2, 3], [2, 4]]}, "legend": {"title": null, "legendX": 48, "legendY": 36}}
      }
    }
  ]
}
